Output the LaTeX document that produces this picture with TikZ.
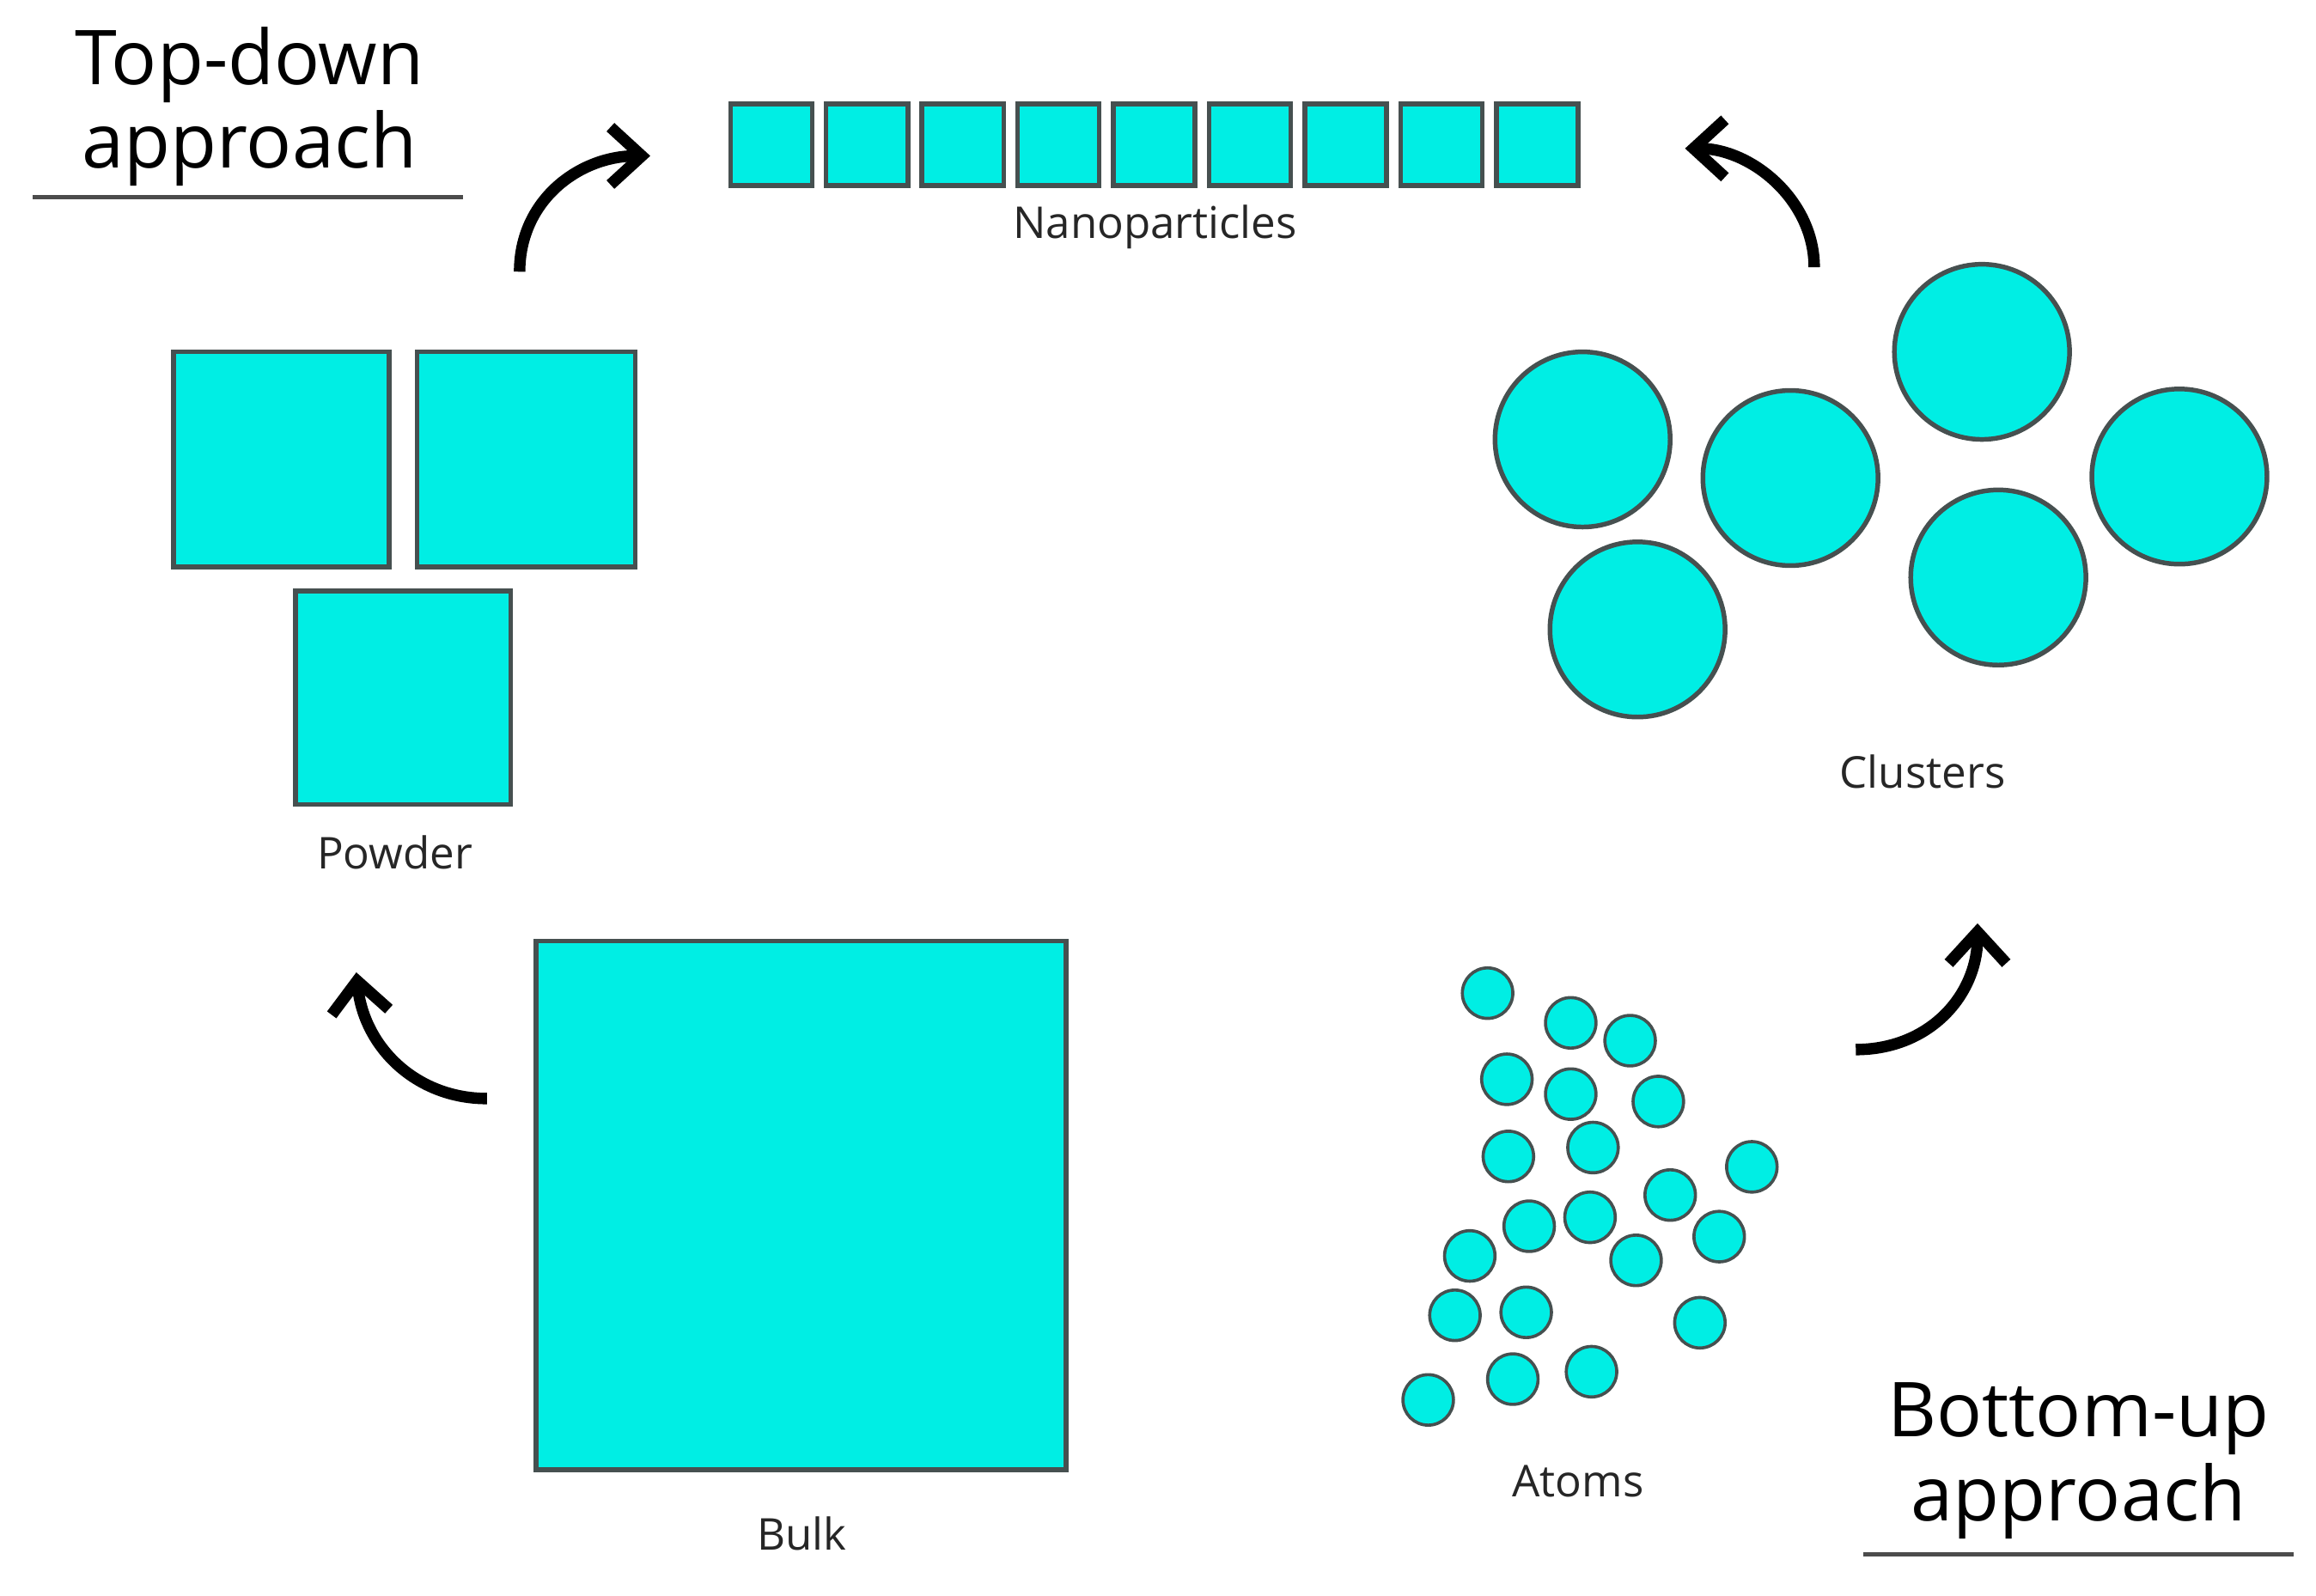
\documentclass[tikz,border=0pt]{standalone}
\usepackage{fontspec}
\setmainfont{Open Sans}
\usetikzlibrary{arrows.meta}
\definecolor{nano}{RGB}{0,238,228}
\definecolor{edge}{RGB}{70,80,80}
\begin{document}
\begin{tikzpicture}[x=0.01cm,y=-0.01cm,
  part/.style={fill=nano,draw=edge,line width=0.9pt},
  lbl/.style={font=\fontsize{8.4}{10}\selectfont,text=black!85},
  ttl/.style={font=\fontsize{14.5}{16}\selectfont,align=center},
  flow/.style={-{Straight Barb[length=6pt,width=11pt]},line width=2.2pt,black}]
\useasboundingbox (0,0) rectangle (1560,1075);
% top-down title
\node[ttl] (td) at (168,72) {Top-down\\approach};
\draw[line width=0.8pt,black!70] (22,133) -- (312,133);
% nanoparticles
\foreach \i in {0,...,8}
  \draw[part] (492+\i*64.5,70) rectangle ++(55,55);
\node[lbl] (nlab) at (778,153) {Nanoparticles};
% powder
\draw[part] (117,237) rectangle (262,382);
\draw[part] (281,237) rectangle (428,382);
\draw[part] (199,398) rectangle (344,542);
\node[lbl] (plab) at (266,574) {Powder};
% bulk
\draw[part] (361,634) rectangle (718,990);
\node[lbl] (blab) at (540,1033) {Bulk};
% clusters
\foreach \x/\y in {1066/296,1206/322,1335/237,1468/321,1346/389,1103/424}
  \draw[part] (\x,\y) circle (59);
\node[lbl] (clab) at (1295,520) {Clusters};
% atoms
\foreach \x/\y in {1002/669,1058/689,1098/701,1015/727,1058/737,1117/742,
  1016/779,1073/773,1180/786,1125/805,1030/826,1071/820,1158/833,990/846,
  1102/849,980/886,1028/884,1145/891,1019/929,1072/924,962/943}
  \draw[part,line width=0.6pt] (\x,\y) circle (17);
\node[lbl] (alab) at (1063,998) {Atoms};
% bottom-up title
\node[ttl] (bu) at (1400,984) {Bottom-up\\approach};
\draw[line width=0.8pt,black!70] (1255,1047) -- (1545,1047);
% arrows
\coordinate (a1) at (328,740); \coordinate (a2) at (240,655);
\coordinate (b1) at (350,183); \coordinate (b2) at (438,105);
\coordinate (c1) at (1222,180); \coordinate (c2) at (1135,100);
\coordinate (d1) at (1250,707); \coordinate (d2) at (1332,622);
\draw[flow] (a1) .. controls (280,740) and (245,705) .. (a2);
\draw[flow] (b1) .. controls (350,135) and (390,105) .. (b2);
\draw[flow] (c1) .. controls (1222,135) and (1180,100) .. (c2);
\draw[flow] (d1) .. controls (1300,707) and (1332,670) .. (d2);
\end{tikzpicture}
\end{document}
